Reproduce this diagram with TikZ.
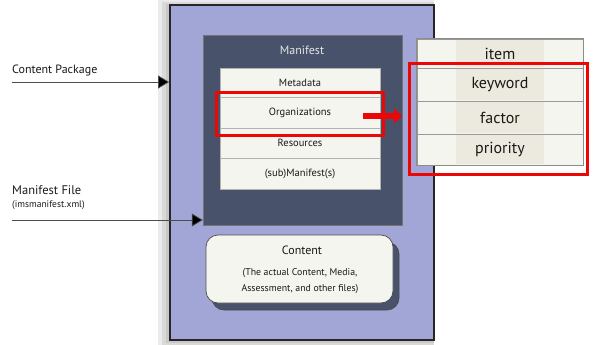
\documentclass[tikz,border=0pt]{standalone}
\usepackage{fontspec}
\setmainfont{PT Sans}
\usetikzlibrary{arrows.meta,fit}
\definecolor{pkgfill}{RGB}{162,166,214}
\definecolor{mfslate}{RGB}{72,82,107}
\definecolor{rowfill}{RGB}{244,245,239}
\definecolor{colfill}{RGB}{236,234,222}
\definecolor{hlred}{RGB}{236,6,6}

\begin{document}
\begin{tikzpicture}[x=1pt, y=-1pt,
    feed/.style={draw=black!70, line width=0.8pt, -{Triangle[length=11pt,width=13pt,fill=black]}},
    row/.style={draw=black!30, fill=rowfill, minimum width=160pt, inner sep=0pt,
                text=black!90, font=\fontsize{10.5}{12}\selectfont},
    cell/.style={draw=black!40, fill=rowfill, minimum width=166pt, inner sep=0pt, line width=0.8pt},
    col/.style={fill=colfill, minimum width=88pt, inner sep=0pt,
                text=black!90, font=\fontsize{16}{18}\selectfont},
    hl/.style={draw=hlred, line width=3pt, inner sep=0pt},
    tag/.style={anchor=base west, inner sep=0pt, text=black!90},
    cbox/.style={draw=black!70, line width=0.7pt, rounded corners=12pt,
                 minimum width=187pt, minimum height=68pt},
    haze/.style={fill=black, opacity=0.08, inner sep=0pt},
  ]
  \useasboundingbox (0,0) rectangle (594,345);

  %% ---------------- content package ----------------
  \foreach \cx/\w/\h in {296/276/349, 298/272/343, 300/268/339} {
    \node[haze, minimum width=\w pt, minimum height=\h pt] at (\cx,173.5) {};
  }
  \node[draw=black!85, line width=1.8pt, fill=pkgfill, minimum width=264pt, minimum height=335pt]
        (pkg) at (302,172.5) {};

  %% ---------------- manifest ----------------
  \node[fill=mfslate, draw=black!55, minimum width=199pt, minimum height=190pt] (man) at (302.5,130) {};
  \node[text=white!85!mfslate, font=\fontsize{12}{14}\selectfont] (manTitle) at (302,50) {Manifest};
  \foreach \nm/\txt/\y/\h in {meta/Metadata/82.5/29, org/Organizations/112.5/31,
                              res/Resources/143/30, sub/(sub)Manifest(s)/173.5/31} {
    \node[row, minimum height=\h pt] (\nm) at (300,\y) {\txt};
  }
  \node[hl, inner xsep=3pt, inner ysep=5.5pt, yshift=-1.5pt, fit=(org)] (orgMark) {};

  %% ---------------- content ----------------
  \node[cbox, fill=mfslate] (contentShadow) at (305.5,276) {};
  \node[cbox, fill=rowfill] (content) at (299.5,269) {};
  \node[text=black!90, font=\fontsize{12}{14}\selectfont] (contentTitle) at (302,250) {Content};
  \node[align=center, text=black!90, font=\fontsize{9.8}{16}\selectfont] (contentNote) at (300,281)
    {(The actual Content, Media,\\Assessment, and other files)};

  %% ---------------- organization table ----------------
  \foreach \nm/\y/\h/\hc in {item/53.5/29/27, keyword/84.5/33/31,
                             factor/117.5/33/31, priority/149.5/31/29} {
    \node[cell, minimum height=\h pt] (t-\nm) at (500,\y) {};
    \node[col, minimum height=\hc pt] (c-\nm) at (500,\y) {\nm};
  }
  \node[draw=black!45, line width=1.3pt, inner sep=0pt, fit=(t-item)(t-priority)] (tbl) {};
  \node[hl, inner xsep=5.5pt, inner ysep=6.5pt, xshift=-1.5pt, yshift=-2.5pt,
        fit=(t-keyword)(t-priority)] (tblMark) {};

  %% ---------------- arrows ----------------
  \coordinate (hlFrom) at (363,116);
  \coordinate (hlTo) at (402,116);
  \draw[hlred, line width=6pt, -{Triangle[length=8pt,width=15pt]}] (hlFrom) -- (hlTo);

  \node[tag, font=\fontsize{12}{14}\selectfont] (cpLabel) at (12,74) {Content Package};
  \coordinate (cpFrom) at (12,82);
  \draw[feed] (cpFrom) -- (pkg.west |- cpFrom);

  \node[tag, font=\fontsize{12.5}{14}\selectfont] (mfLabel) at (12,194) {Manifest File};
  \node[tag, font=\fontsize{9.5}{11}\selectfont] (mfFile) at (12,207) {(imsmanifest.xml)};
  \coordinate (mfFrom) at (12,220);
  \draw[feed] (mfFrom) -- (man.west |- mfFrom);

\end{tikzpicture}
\end{document}
